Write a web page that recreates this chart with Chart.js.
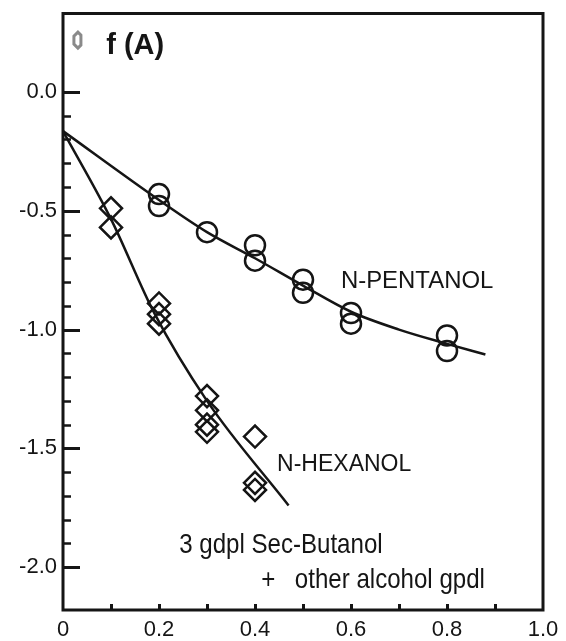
<!DOCTYPE html>
<html>
<head>
<meta charset="utf-8">
<script src="https://cdn.jsdelivr.net/npm/chart.js@4"></script>
<style>
  html, body { margin: 0; padding: 0; background: #fff; }
  canvas { display: block; }
</style>
</head>
<body>
<canvas id="chart" width="566" height="641"></canvas>
<script>
// Measured points (x = alcohol concentration, y = f(A))
const pentanolX = [0.2, 0.2, 0.3, 0.4, 0.4, 0.5, 0.5, 0.6, 0.6, 0.8, 0.8];
const pentanolY = [-0.43, -0.48, -0.59, -0.645, -0.71, -0.79, -0.845, -0.93, -0.975, -1.025, -1.09];
const hexanolX = [0.1, 0.1, 0.2, 0.2, 0.2, 0.3, 0.3, 0.3, 0.3, 0.4, 0.4, 0.4];
const hexanolY = [-0.49, -0.57, -0.89, -0.935, -0.975, -1.28, -1.34, -1.40, -1.43, -1.45, -1.645, -1.675];

// Fitted curves
const pentanolFitX = [0, 0.2, 0.3, 0.4, 0.5, 0.6, 0.7, 0.8, 0.88];
const pentanolFitY = [-0.165, -0.455, -0.59, -0.70, -0.815, -0.925, -1.0, -1.06, -1.105];
const hexanolFitX = [0, 0.1, 0.19, 0.3, 0.47];
const hexanolFitY = [-0.165, -0.535, -0.93, -1.30, -1.74];

// Labelled ticks
const xTickLabels = [0, 0.2, 0.4, 0.6, 0.8, 1.0];
const yTickLabels = [0, -0.5, -1.0, -1.5, -2.0];

const INK = "#151515";
const SANS = "'Liberation Sans', Arial, sans-serif";

// Text placed in data coordinates, squeeze < 1 gives a condensed face
const notes = [
    { text: "f (A)", x: 0.09, y: 0.16, font: "bold 29px " + SANS, squeeze: 1 },
    { text: "N-PENTANOL", x: 0.579, y: -0.825, font: "23px " + SANS, squeeze: 1.04 },
    { text: "N-HEXANOL", x: 0.446, y: -1.597, font: "23px " + SANS, squeeze: 1 },
    { text: "3 gdpl Sec-Butanol", x: 0.242, y: -1.941, font: "28px " + SANS, squeeze: 0.86 },
    { text: "+", x: 0.413, y: -2.088, font: "28px " + SANS, squeeze: 0.86 },
    { text: "other alcohol gpdl", x: 0.483, y: -2.088, font: "28px " + SANS, squeeze: 0.86 }
];

function pairs(xs, ys) {
    return xs.map((x, i) => ({ x: x, y: ys[i] }));
}

function near(a, b) {
    return Math.abs(a - b) < 1e-6;
}

function inList(list, v) {
    return list.some(t => near(t, v));
}

// Frame, inward tick marks and the text notes
const decorPlugin = {
    id: "decor",
    afterDatasetsDraw(chart) {
        const { ctx, chartArea: a, scales: { x, y } } = chart;
        ctx.save();
        ctx.strokeStyle = INK;
        ctx.lineCap = "butt";

        y.ticks.forEach(t => {
            const v = t.value;
            if (v > 1e-6 || v < -2.0001 || !near(v * 10, Math.round(v * 10))) return;
            const major = inList(yTickLabels, v);
            const py = Math.round(y.getPixelForValue(v)) + 0.5;
            ctx.lineWidth = major ? 3 : 2.5;
            ctx.beginPath();
            ctx.moveTo(a.left, py);
            ctx.lineTo(a.left + (major ? 17 : 8), py);
            ctx.stroke();
        });

        x.ticks.forEach(t => {
            const v = t.value;
            if (v < 0.05 || v > 0.95 || !near(v * 10, Math.round(v * 10))) return;
            const px = Math.round(x.getPixelForValue(v)) + 0.5;
            ctx.lineWidth = 3;
            ctx.beginPath();
            ctx.moveTo(px, a.bottom);
            ctx.lineTo(px, a.bottom - 6);
            ctx.stroke();
        });

        ctx.lineWidth = 3;
        ctx.strokeRect(a.left, a.top, a.right - a.left, a.bottom - a.top);

        // small hollow key mark next to f (A)
        const kx = x.getPixelForValue(0.029), ky = y.getPixelForValue(0.218);
        ctx.strokeStyle = "#8a8a8a";
        ctx.lineWidth = 3;
        ctx.beginPath();
        ctx.moveTo(kx + 1, ky - 8);
        ctx.lineTo(kx + 4, ky - 5);
        ctx.lineTo(kx + 4, ky + 5);
        ctx.lineTo(kx + 1, ky + 8);
        ctx.lineTo(kx - 3, ky + 4);
        ctx.lineTo(kx - 3, ky - 4);
        ctx.closePath();
        ctx.stroke();

        ctx.fillStyle = INK;
        ctx.textBaseline = "alphabetic";
        ctx.textAlign = "left";
        notes.forEach(n => {
            ctx.save();
            ctx.font = n.font;
            ctx.translate(x.getPixelForValue(n.x), y.getPixelForValue(n.y));
            ctx.scale(n.squeeze, 1);
            ctx.fillText(n.text, 0, 0);
            ctx.restore();
        });

        ctx.restore();
    }
};

const fitStyle = {
    showLine: true,
    pointRadius: 0,
    borderColor: INK,
    borderWidth: 2.5,
    cubicInterpolationMode: "monotone",
    fill: false
};

const markStyle = {
    showLine: false,
    borderColor: INK,
    backgroundColor: "rgba(0,0,0,0)",
    pointBorderWidth: 2.5
};

// Keep the plot box fixed: no extra room for half-height edge labels
function fixBox(scale, w, h) {
    if (w) scale.width = w;
    if (h) scale.height = h;
    scale.paddingTop = 0;
    scale.paddingBottom = 0;
    scale.paddingLeft = 0;
    scale.paddingRight = 0;
}

const myChart = new Chart(document.getElementById("chart"), {
    type: "scatter",
    data: {
        datasets: [
            Object.assign({ label: "N-PENTANOL fit", data: pairs(pentanolFitX, pentanolFitY) }, fitStyle),
            Object.assign({ label: "N-HEXANOL fit", data: pairs(hexanolFitX, hexanolFitY) }, fitStyle),
            Object.assign({ label: "N-PENTANOL", data: pairs(pentanolX, pentanolY), pointStyle: "circle", pointRadius: 10 }, markStyle),
            Object.assign({ label: "N-HEXANOL", data: pairs(hexanolX, hexanolY), pointStyle: "rectRot", pointRadius: 11 }, markStyle)
        ]
    },
    options: {
        responsive: false,
        animation: false,
        layout: { padding: { top: 7, right: 23, left: 0, bottom: 0 } },
        plugins: { legend: { display: false }, tooltip: { enabled: false } },
        scales: {
            x: {
                type: "linear",
                min: 0,
                max: 1.0,
                grid: { display: false, drawTicks: false },
                border: { display: false },
                afterFit: scale => fixBox(scale, 0, 31),
                ticks: {
                    stepSize: 0.1,
                    autoSkip: false,
                    maxRotation: 0,
                    padding: 7,
                    color: INK,
                    font: { family: SANS, size: 22 },
                    callback: v => inList(xTickLabels, v) ? (near(v, 0) ? "0" : v.toFixed(1)) : ""
                }
            },
            y: {
                type: "linear",
                min: -2.18,
                max: 0.33,
                grid: { display: false, drawTicks: false },
                border: { display: false },
                afterFit: scale => fixBox(scale, 63, 0),
                ticks: {
                    stepSize: 0.1,
                    autoSkip: false,
                    padding: 6,
                    color: INK,
                    font: { family: SANS, size: 22 },
                    callback: v => inList(yTickLabels, v) ? v.toFixed(1) : ""
                }
            }
        }
    },
    plugins: [decorPlugin]
});
</script>
</body>
</html>
